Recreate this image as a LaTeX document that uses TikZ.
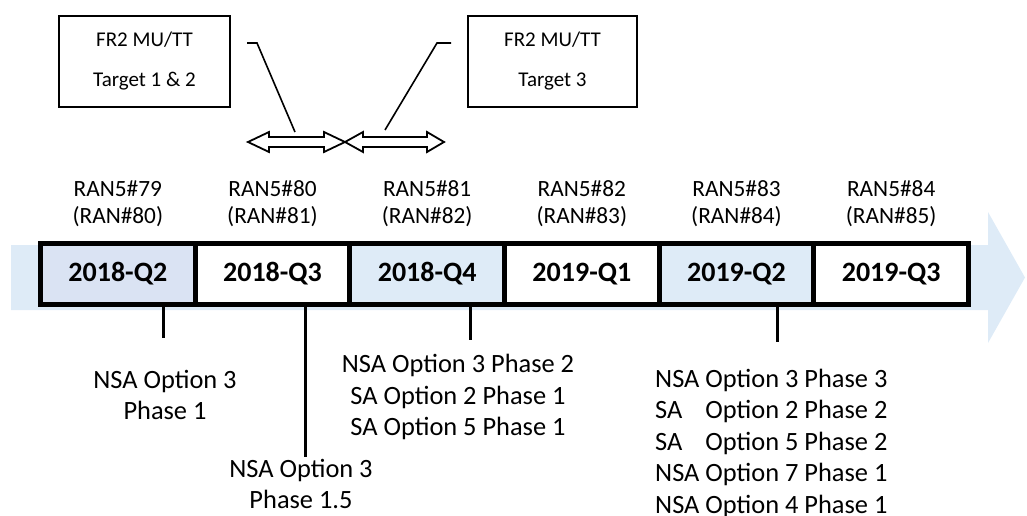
\documentclass[tikz,border=0pt]{standalone}
\usepackage{fontspec}
\setmainfont{Carlito}
\definecolor{band}{HTML}{DEEBF7}
\definecolor{qtwo}{HTML}{DAE3F3}
\definecolor{qfour}{HTML}{DEEBF7}
\begin{document}
\begin{tikzpicture}[x=1pt,y=-1pt,
  qbox/.style={draw, line width=5pt, minimum width=154.67pt, minimum height=61pt, inner sep=0pt, font=\fontsize{28}{32}\selectfont\bfseries},
  ran/.style={align=center, font=\fontsize{23.3}{27}\selectfont, inner sep=0pt},
  note/.style={font=\fontsize{26.4}{31.5}\selectfont, inner sep=0pt},
  tbox/.style={draw, line width=2pt, inner sep=0pt, minimum width=171pt, minimum height=91pt, align=center, font=\fontsize{21}{40}\selectfont},
  tick/.style={line width=3pt},
  callout/.style={line width=1.6pt},
  dbl/.style={draw, line width=1.8pt, fill=white, line join=miter}]
\useasboundingbox (0,0) rectangle (1027,516);
% background arrow
\fill[band] (11,245) -- (988,245) -- (988,212) -- (1025,277.5) -- (988,343) -- (988,310) -- (11,310) -- cycle;
% quarter boxes
\node[qbox, fill=qtwo]  (q1) at (117.83,274) {2018-Q2};
\node[qbox, fill=white] (q2) at (272.5,274) {2018-Q3};
\node[qbox, fill=qfour] (q3) at (427.17,274) {2018-Q4};
\node[qbox, fill=white] (q4) at (581.83,274) {2019-Q1};
\node[qbox, fill=qfour] (q5) at (736.5,274) {2019-Q2};
\node[qbox, fill=white] (q6) at (891.17,274) {2019-Q3};
% meeting labels
\node[ran] (r1) at (117.83,203.5) {RAN5\#79\\(RAN\#80)};
\node[ran] (r2) at (272.5,203.5) {RAN5\#80\\(RAN\#81)};
\node[ran] (r3) at (427.17,203.5) {RAN5\#81\\(RAN\#82)};
\node[ran] (r4) at (581.83,203.5) {RAN5\#82\\(RAN\#83)};
\node[ran] (r5) at (736.5,203.5) {RAN5\#83\\(RAN\#84)};
\node[ran] (r6) at (891.17,203.5) {RAN5\#84\\(RAN\#85)};
% ticks
\coordinate (t1) at (163,338);
\coordinate (t2) at (305,457);
\coordinate (t3) at (470,340);
\coordinate (t4) at (777,342);
\draw[tick] (q1.south -| t1) -- (t1);
\draw[tick] (q2.south -| t2) -- (t2);
\draw[tick] (q3.south -| t3) -- (t3);
\draw[tick] (q5.south -| t4) -- (t4);
% notes
\node[note, align=center] (n1) at (165,395) {NSA Option 3\\Phase 1};
\node[note, align=center] (n2) at (301,484) {NSA Option 3\\Phase 1.5};
\node[note, align=center] (n3) at (458,397) {NSA Option 3 Phase 2\\SA Option 2 Phase 1\\SA Option 5 Phase 1};
\node[note, align=left, anchor=west] (n4) at (655,443) {NSA Option 3 Phase 3\\\rlap{SA}\phantom{NSA} Option 2 Phase 2\\\rlap{SA}\phantom{NSA} Option 5 Phase 2\\NSA Option 7 Phase 1\\NSA Option 4 Phase 1};
% top boxes
\node[tbox] (b1) at (144.5,61.5) {FR2 MU/TT\\Target 1 \& 2};
\node[tbox, minimum width=169pt] (b2) at (552.5,61.5) {FR2 MU/TT\\Target 3};
% double arrows
\draw[dbl] (248,142) -- (269,132) -- (269,137) -- (324,137) -- (324,132) -- (345,142) -- (324,152) -- (324,147) -- (269,147) -- (269,152) -- cycle;
\draw[dbl] (345,142) -- (363,132) -- (363,137) -- (427,137) -- (427,132) -- (444,142) -- (427,152) -- (427,147) -- (363,147) -- (363,152) -- cycle;
% callouts
\coordinate (c1a) at (247,43);
\coordinate (c1b) at (257,43);
\coordinate (c1c) at (295,132);
\coordinate (c2a) at (451,43);
\coordinate (c2b) at (437,43);
\coordinate (c2c) at (385,130);
\draw[callout] (c1a) -- (c1b) -- (c1c);
\draw[callout] (c2a) -- (c2b) -- (c2c);
\end{tikzpicture}
\end{document}
